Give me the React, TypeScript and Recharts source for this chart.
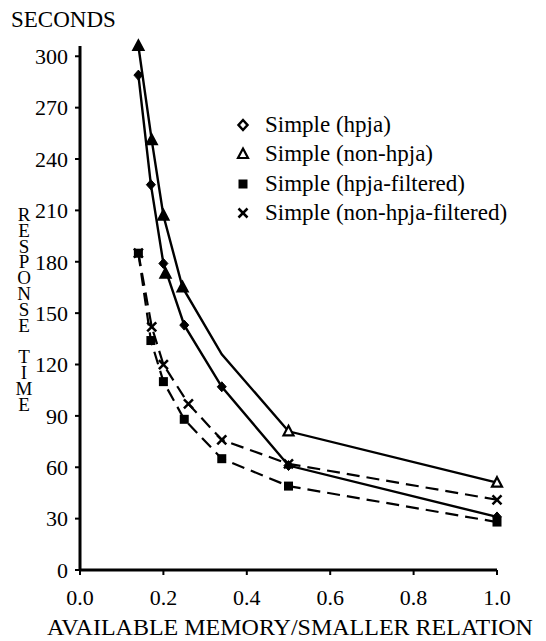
import React from 'react';
import { LineChart, Line, XAxis, YAxis, Legend } from 'recharts';

const FONT = "'Liberation Serif', 'DejaVu Serif', serif";

// x = available memory / smaller relation, y = response time (seconds)
const hpjaX = [0.14, 0.17, 0.2, 0.25, 0.34, 0.5, 1.0];
const hpjaY = [289, 225, 179, 143, 107, 61, 31];

const nonHpjaX = [0.14, 0.172, 0.2, 0.246, 0.34, 0.5, 1.0];
const nonHpjaY = [306, 251, 207, 165, 126, 81, 51];
// the bend at 0.34 carries no printed marker
const nonHpjaUnmarked = [0.34];

// lone triangle printed on the hpja curve just below 0.2
const strayX = [0.205];
const strayY = [173];

const hpjaFilteredX = [0.14, 0.17, 0.2, 0.25, 0.34, 0.5, 1.0];
const hpjaFilteredY = [185, 134, 110, 88, 65, 49, 28];

const nonHpjaFilteredX = [0.14, 0.172, 0.2, 0.26, 0.34, 0.5, 1.0];
const nonHpjaFilteredY = [185, 142, 120, 97, 76, 62, 41];

const xTicks = [0, 0.2, 0.4, 0.6, 0.8, 1.0];
const yTicks = [0, 30, 60, 90, 120, 150, 180, 210, 240, 270, 300];

const legendNames = [
  'Simple (hpja)',
  'Simple (non-hpja)',
  'Simple (hpja-filtered)',
  'Simple (non-hpja-filtered)',
];

const toPoints = (xs: number[], ys: number[]) => xs.map((x, i) => ({ x, y: ys[i] }));

const hpja = toPoints(hpjaX, hpjaY);
const nonHpja = toPoints(nonHpjaX, nonHpjaY);
const stray = toPoints(strayX, strayY);
const hpjaFiltered = toPoints(hpjaFilteredX, hpjaFilteredY);
const nonHpjaFiltered = toPoints(nonHpjaFilteredX, nonHpjaFilteredY);

type Mark = 'diamond' | 'triangle' | 'square' | 'cross';

const Marker = ({ kind, cx, cy, legend = false }: { kind: Mark; cx: number; cy: number; legend?: boolean }) => {
  if (cx == null || cy == null) return null;
  if (kind === 'diamond') {
    return (
      <path
        d={`M${cx},${cy - 5} L${cx + 4.5},${cy} L${cx},${cy + 5} L${cx - 4.5},${cy} Z`}
        fill={legend ? '#fff' : '#000'}
        stroke="#000"
        strokeWidth={legend ? 2.5 : 1}
      />
    );
  }
  if (kind === 'triangle') {
    return (
      <path
        d={`M${cx},${cy - 5.5} L${cx + 5},${cy + 4} L${cx - 5},${cy + 4} Z`}
        fill={legend ? '#fff' : cy < 300 ? '#000' : '#fff'}
        stroke="#000"
        strokeWidth={2.2}
      />
    );
  }
  if (kind === 'square') {
    return <rect x={cx - 4.5} y={cy - 4.5} width={9} height={9} fill="#000" />;
  }
  return (
    <g stroke="#000" strokeWidth={2.5}>
      <line x1={cx - 4.5} y1={cy - 4.5} x2={cx + 4.5} y2={cy + 4.5} />
      <line x1={cx - 4.5} y1={cy + 4.5} x2={cx + 4.5} y2={cy - 4.5} />
    </g>
  );
};

const dotOf = (kind: Mark, skip: number[] = []) => (p: any) =>
  skip.includes(p.payload?.x) ? (
    <g key={`${kind}-${p.index}`} />
  ) : (
    <Marker key={`${kind}-${p.index}`} kind={kind} cx={p.cx} cy={p.cy} />
  );

const legendKinds: Mark[] = ['diamond', 'triangle', 'square', 'cross'];

const LegendBox = () => (
  <div style={{ fontFamily: FONT, fontSize: 23, color: '#000' }}>
    {legendNames.map((name, i) => (
      <div key={name} style={{ display: 'flex', alignItems: 'center', height: 29.5, whiteSpace: 'nowrap' }}>
        <svg width={22} height={16} style={{ marginRight: 11 }}>
          <Marker kind={legendKinds[i]} cx={11} cy={8} legend />
        </svg>
        <span>{name}</span>
      </div>
    ))}
  </div>
);

const YLabel = (props: any) => {
  const { viewBox } = props;
  const letters = 'RESPONSE TIME'.split('');
  return (
    <g style={{ fontFamily: FONT }} fill="#000">
      <text x={11} y={viewBox.y - 19} fontSize={23} style={{ fontFamily: FONT }}>
        SECONDS
      </text>
      {letters.map((ch, i) =>
        ch === ' ' ? null : (
          <text key={i} x={24} y={221 + i * 15.8} fontSize={19} textAnchor="middle" style={{ fontFamily: FONT }}>
            {ch}
          </text>
        )
      )}
    </g>
  );
};

const XLabel = (props: any) => {
  const { viewBox } = props;
  return (
    <text
      x={290}
      y={viewBox.y + 65}
      fontSize={24}
      fill="#000"
      textAnchor="middle"
      style={{ fontFamily: FONT }}
    >
      AVAILABLE MEMORY/SMALLER RELATION
    </text>
  );
};

export default function App() {
  const tick = { fill: '#000', fontSize: 22, fontFamily: FONT, style: { fontFamily: FONT } };
  return (
    <div style={{ position: 'absolute', left: 0, top: 0, background: '#fff', fontFamily: FONT }}>
      <LineChart
        width={546}
        height={641}
        margin={{ top: 46, right: 49, bottom: 0, left: 0 }}
        style={{ fontFamily: FONT }}
      >
        <XAxis
          type="number"
          dataKey="x"
          domain={[0, 1]}
          ticks={xTicks}
          tickFormatter={(v: number) => v.toFixed(1)}
          height={71}
          tick={tick}
          tickSize={5}
          tickMargin={14}
          axisLine={{ stroke: '#000', strokeWidth: 3 }}
          tickLine={{ stroke: '#000', strokeWidth: 2 }}
          label={{ content: XLabel }}
        />
        <YAxis
          type="number"
          dataKey="y"
          domain={[0, 300]}
          ticks={yTicks}
          width={80}
          tick={tick}
          tickSize={5}
          tickMargin={7}
          axisLine={{ stroke: '#000', strokeWidth: 3 }}
          tickLine={{ stroke: '#000', strokeWidth: 2 }}
          label={{ content: YLabel }}
        />
        <Legend
          layout="vertical"
          align="center"
          verticalAlign="middle"
          wrapperStyle={{ left: 232, top: 110, width: 300 }}
          content={() => <LegendBox />}
        />
        <Line
          data={hpjaFiltered}
          dataKey="y"
          name="Simple (hpja-filtered)"
          stroke="#000"
          strokeWidth={2.2}
          strokeDasharray="13 7"
          dot={dotOf('square')}
          isAnimationActive={false}
        />
        <Line
          data={nonHpjaFiltered}
          dataKey="y"
          name="Simple (non-hpja-filtered)"
          stroke="#000"
          strokeWidth={2.2}
          strokeDasharray="13 7"
          dot={dotOf('cross')}
          isAnimationActive={false}
        />
        <Line
          data={hpja}
          dataKey="y"
          name="Simple (hpja)"
          stroke="#000"
          strokeWidth={2.4}
          dot={dotOf('diamond')}
          isAnimationActive={false}
        />
        <Line
          data={nonHpja}
          dataKey="y"
          name="Simple (non-hpja)"
          stroke="#000"
          strokeWidth={2.4}
          dot={dotOf('triangle', nonHpjaUnmarked)}
          isAnimationActive={false}
        />
        <Line
          data={stray}
          dataKey="y"
          name="stray"
          stroke="none"
          dot={dotOf('triangle')}
          isAnimationActive={false}
        />
      </LineChart>
    </div>
  );
}
